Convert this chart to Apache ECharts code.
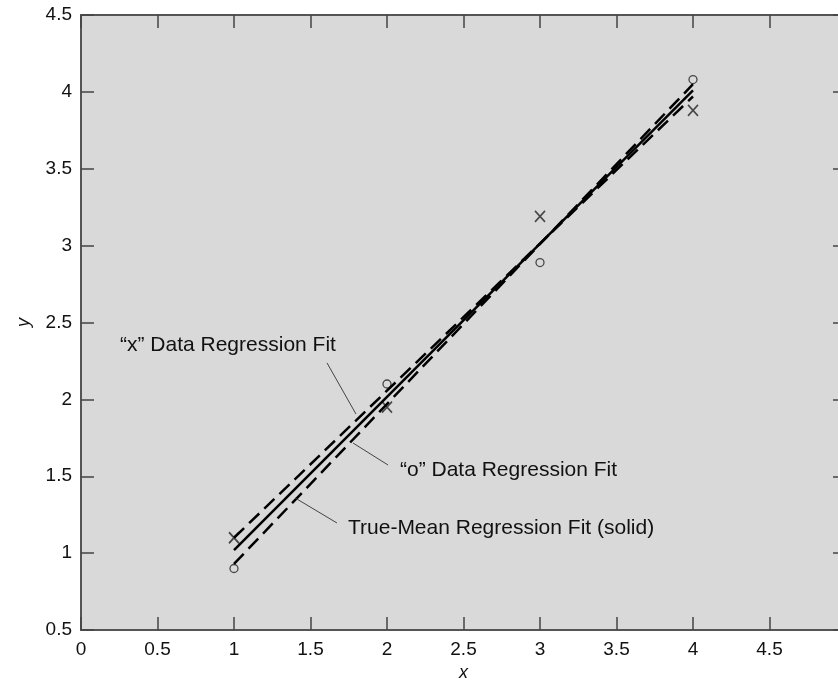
<!DOCTYPE html>
<html>
<head>
<meta charset="utf-8">
<script src="https://cdn.jsdelivr.net/npm/echarts@6/dist/echarts.min.js"></script>
<style>html,body{margin:0;padding:0;background:#fff}#main{width:838px;height:687px}</style>
</head>
<body>
<div id="main"></div>
<script>
// measured points
var oPoints = [[1, 0.9], [2, 2.1], [3, 2.89], [4, 4.08]];
var xPoints = [[1, 1.1], [2, 1.95], [3, 3.19], [4, 3.88]];
// fitted lines (end points)
var oFit = [[1, 0.93], [4, 4.05]];
var xFit = [[1, 1.1], [4, 3.97]];
var trueFit = [[1, 1.02], [4, 4.01]];
// annotations: text, text anchor, leader start, leader end (data coords)
var notes = [
  { text: '\u201cx\u201d Data Regression Fit', at: [0.255, 2.35], from: [1.608, 2.237], to: [1.797, 1.905] },
  { text: '\u201co\u201d Data Regression Fit', at: [2.085, 1.54], from: [1.778, 1.716], to: [2.007, 1.573] },
  { text: 'True-Mean Regression Fit (solid)', at: [1.745, 1.163], from: [1.399, 1.359], to: [1.673, 1.196] }
];

var FONT = '"Liberation Sans", Arial, sans-serif';
var chart = echarts.init(document.getElementById('main'));

function axisCommon(extra){
  return Object.assign({
    type: 'value', min: 0.5, max: 4.5, interval: 0.5,
    axisLine: { show: true, onZero: false, lineStyle: { color: '#555', width: 2 } },
    axisTick: { show: true, inside: true, length: 13, lineStyle: { color: '#444', width: 1.5 } },
    splitLine: { show: false },
    axisLabel: { show: false }
  }, extra);
}

var fmt = function(v){ return String(Math.round(v * 10) / 10); };

chart.setOption({
  animation: false,
  grid: { left: 81, top: 15, width: 765, height: 615, outerBoundsMode: 'none', containLabel: false,
    show: true, backgroundColor: '#d9d9d9', borderWidth: 0 },
  xAxis: [
    axisCommon({ min: 0, max: 5, position: 'bottom',
      axisLabel: { show: true, color: '#111', fontSize: 19, fontFamily: FONT, margin: 10, formatter: fmt,
        showMaxLabel: false },
      name: 'x', nameLocation: 'middle', nameGap: 34,
      nameTextStyle: { color: '#111', fontSize: 18, fontStyle: 'italic', fontFamily: FONT } }),
    axisCommon({ min: 0, max: 5, position: 'top' })
  ],
  yAxis: [
    axisCommon({ position: 'left',
      axisLabel: { show: true, color: '#111', fontSize: 19, fontFamily: FONT, margin: 9, formatter: fmt },
      name: 'y', nameLocation: 'middle', nameGap: 48, nameRotate: 90,
      nameTextStyle: { color: '#111', fontSize: 18, fontStyle: 'italic', fontFamily: FONT } }),
    axisCommon({ position: 'right' })
  ],
  series: [
    { type: 'line', data: xFit, symbol: 'none', lineStyle: { color: '#000', width: 2.5, type: [14, 7] } },
    { type: 'line', data: oFit, symbol: 'none', lineStyle: { color: '#000', width: 2.5, type: [14, 7] } },
    { type: 'line', data: trueFit, symbol: 'none', lineStyle: { color: '#000', width: 2.5 } },
    { type: 'scatter', data: oPoints, symbol: 'circle', symbolSize: 8,
      itemStyle: { color: '#d9d9d9', borderColor: '#222', borderWidth: 1.3 } },
    { type: 'scatter', data: xPoints, symbol: 'path://M0,0L10,12M10,0L0,12', symbolSize: [10, 11],
      itemStyle: { color: 'none', borderColor: '#222', borderWidth: 1.7 } }
  ]
});

var elements = [];
notes.forEach(function(n){
  var p = chart.convertToPixel({ gridIndex: 0 }, n.at);
  var a = chart.convertToPixel({ gridIndex: 0 }, n.from);
  var b = chart.convertToPixel({ gridIndex: 0 }, n.to);
  elements.push({ type: 'line', shape: { x1: a[0], y1: a[1], x2: b[0], y2: b[1] },
    style: { stroke: '#444', lineWidth: 1 }, z: 10 });
  elements.push({ type: 'text', x: p[0], y: p[1],
    style: { text: n.text, fill: '#111', fontSize: 21, fontFamily: FONT, verticalAlign: 'middle', align: 'left' }, z: 10 });
});
chart.setOption({ graphic: elements });
</script>
</body>
</html>
